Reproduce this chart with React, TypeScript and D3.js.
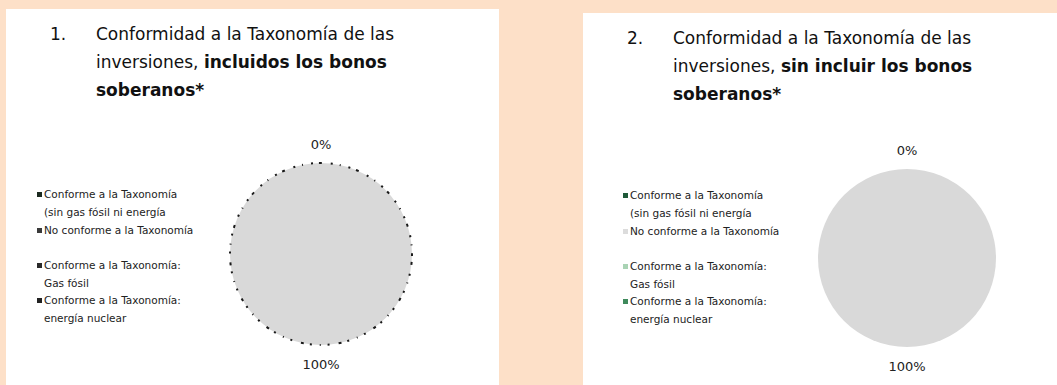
import * as d3 from "d3";

const W = 1057;
const H = 385;

// chart data
const categories = [
  "Conforme a la Taxonomía (sin gas fósil ni energía",
  "No conforme a la Taxonomía",
  "Conforme a la Taxonomía: Gas fósil",
  "Conforme a la Taxonomía: energía nuclear",
];
const legendLines = [
  ["Conforme a la Taxonomía", "(sin gas fósil ni energía"],
  ["No conforme a la Taxonomía"],
  ["Conforme a la Taxonomía:", "Gas fósil"],
  ["Conforme a la Taxonomía:", "energía nuclear"],
];
const valuesIncl = [0, 100, 0, 0];
const valuesExcl = [0, 100, 0, 0];
const sliceLabels = ["0%", "100%"];

const sliceColors = ["#1f5a3a", "#d9d9d9", "#a9d3b4", "#3f8a5c"];
const swatchRight = ["#1f5a3a", "#dcdcdc", "#a9d3b4", "#3f8a5c"];
const swatchLeft = ["#1c2a20", "#3a3a3a", "#2a2a2a", "#222222"];

const font = "'DejaVu Sans', Verdana, sans-serif";

type PanelProps = {
  x: number;
  top: number;
  width: number;
  num: string;
  title1: string;
  boldTail: string;
  values: number[];
  swatches: string[];
  cx: number;
  cy: number;
  r: number;
  dotted: boolean;
  legendX: number;
  legendTop: number;
  labelDy: number;
};

function Panel(p: PanelProps) {
  const pie = d3
    .pie<number>()
    .sort(null)
    .value((d) => d);
  const arcs = pie(p.values);
  const arc = d3.arc<d3.PieArcDatum<number>>().innerRadius(0).outerRadius(p.r);
  const labelArc = d3
    .arc<d3.PieArcDatum<number>>()
    .innerRadius(p.r + p.labelDy)
    .outerRadius(p.r + p.labelDy);

  const tx = p.x;
  const lineY = [p.top + 31, p.top + 59, p.top + 87];

  const legendStarts = [0, 36, 71, 106].map((d) => p.legendTop + d);

  const zeroArc = arcs.find((a) => a.value === 0);
  const fullArc = arcs.find((a) => a.value > 0);

  return (
    <g>
      <rect x={p.x} y={p.top} width={p.width} height={H - p.top} fill="#ffffff" />
      <text x={tx + 44} y={lineY[0]} fontFamily={font} fontSize={17} fill="#111">
        {p.num}
      </text>
      <text x={tx + 90} y={lineY[0]} fontFamily={font} fontSize={17} fill="#111">
        Conformidad a la Taxonomía de las
      </text>
      <text x={tx + 90} y={lineY[1]} fontFamily={font} fontSize={17} fill="#111">
        {p.title1}
        <tspan fontWeight="bold">{p.boldTail}</tspan>
      </text>
      <text x={tx + 90} y={lineY[2]} fontFamily={font} fontSize={17} fill="#111" fontWeight="bold">
        soberanos*
      </text>

      {legendLines.map((lines, i) => (
        <g key={categories[i]}>
          <rect
            x={p.legendX - 7}
            y={legendStarts[i] - 6}
            width={5}
            height={5}
            fill={p.swatches[i]}
          />
          {lines.map((ln, j) => (
            <text
              key={j}
              x={p.legendX}
              y={legendStarts[i] + j * 18}
              fontFamily={font}
              fontSize={10.5}
              fill="#222"
            >
              {ln}
            </text>
          ))}
        </g>
      ))}

      <g transform={`translate(${p.cx},${p.cy})`}>
        {arcs.map((a, i) => (
          <path key={i} d={arc(a) || ""} fill={sliceColors[i]} />
        ))}
        {p.dotted && (
          <circle
            r={p.r}
            fill="none"
            stroke="#1a1a1a"
            strokeWidth={2}
            strokeDasharray="2 6 3 9 2 7 1 8"
          />
        )}
        {zeroArc && (
          <text
            transform={`translate(${labelArc.centroid(zeroArc)})`}
            textAnchor="middle"
            dy="0.35em"
            fontFamily={font}
            fontSize={13}
            fill="#222"
          >
            {sliceLabels[0]}
          </text>
        )}
        {fullArc && (
          <text
            transform={`translate(${labelArc.centroid(fullArc)})`}
            textAnchor="middle"
            dy="0.35em"
            fontFamily={font}
            fontSize={13}
            fill="#222"
          >
            {sliceLabels[1]}
          </text>
        )}
      </g>
    </g>
  );
}

export default function App() {
  return (
    <svg
      width={W}
      height={H}
      style={{ position: "absolute", left: 0, top: 0, display: "block" }}
    >
      <rect width={W} height={H} fill="#fde0c8" />
      <Panel
        x={6}
        top={9}
        width={493}
        num="1."
        title1="inversiones, "
        boldTail="incluidos los bonos"
        values={valuesIncl}
        swatches={swatchLeft}
        cx={321}
        cy={254}
        r={91}
        dotted={true}
        legendX={44}
        legendTop={198}
        labelDy={19}
      />
      <Panel
        x={583}
        top={13}
        width={W - 583}
        num="2."
        title1="inversiones, "
        boldTail="sin incluir los bonos"
        values={valuesExcl}
        swatches={swatchRight}
        cx={907}
        cy={258}
        r={89}
        dotted={false}
        legendX={630}
        legendTop={199}
        labelDy={19}
      />
    </svg>
  );
}
